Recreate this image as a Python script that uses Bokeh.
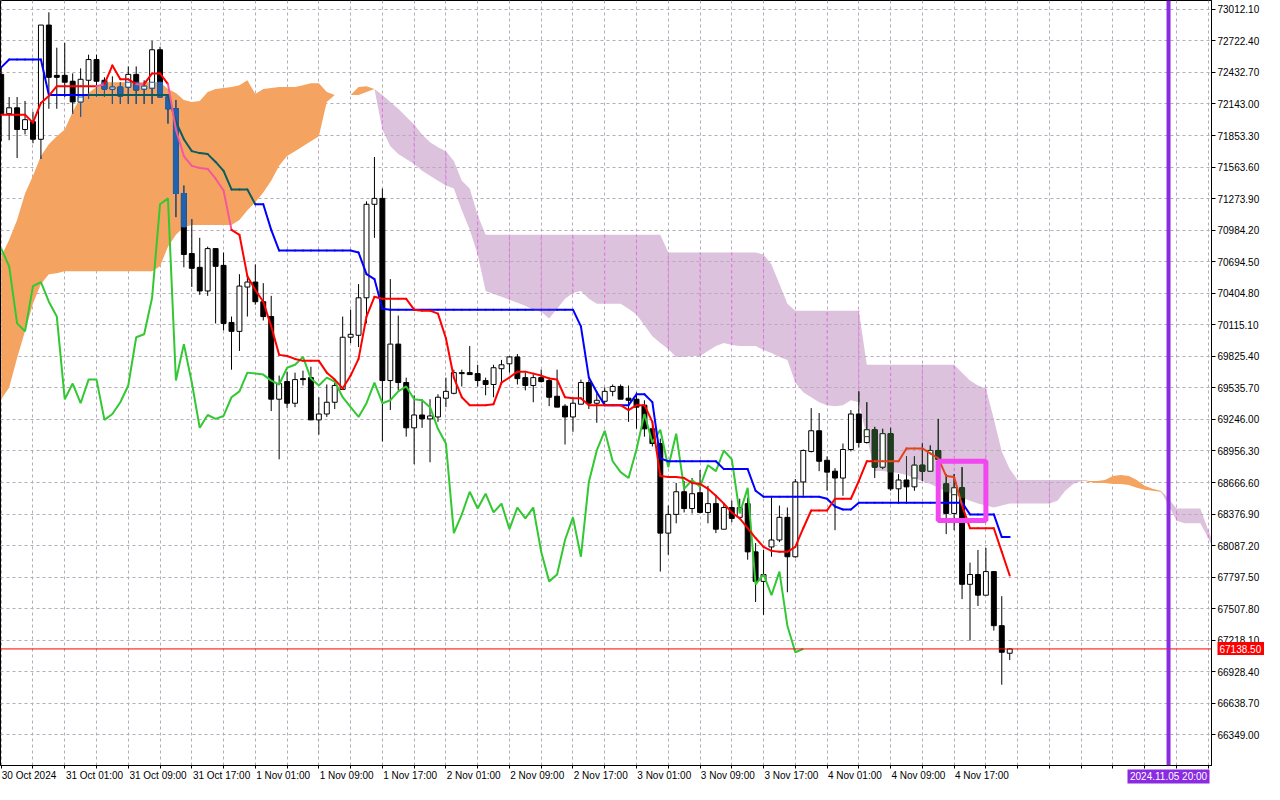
import numpy as np
from bokeh.plotting import figure
from bokeh.models import FixedTicker, PrintfTickFormatter, Span, Range1d, LinearAxis
from bokeh.embed import file_html
from bokeh.resources import INLINE

# ---------------- data (hourly bars, index 0 = 30 Oct 2024 17:00) ----------------
tick_bars = [0, 8, 16, 24, 32, 40, 48, 56, 64, 72, 80, 88, 96, 104, 112, 120]
tick_labels = ["30 Oct 2024", "31 Oct 01:00", "31 Oct 09:00", "31 Oct 17:00",
               "1 Nov 01:00", "1 Nov 09:00", "1 Nov 17:00", "2 Nov 01:00",
               "2 Nov 09:00", "2 Nov 17:00", "3 Nov 01:00", "3 Nov 09:00",
               "3 Nov 17:00", "4 Nov 01:00", "4 Nov 09:00", "4 Nov 17:00"]
price_ticks = [73012.10, 72722.40, 72432.70, 72143.00, 71853.30, 71563.60, 71273.90,
               70984.20, 70694.50, 70404.80, 70115.10, 69825.40, 69535.70, 69246.00,
               68956.30, 68666.60, 68376.90, 68087.20, 67797.50, 67507.80, 67218.10,
               66928.40, 66638.70, 66349.00]

opens = [72415, 72054, 72108, 71909, 71981, 71819, 72868, 72406, 72406, 72352,
         72162, 72361, 72551, 72361, 72280, 72298, 72298, 72415, 72280, 72289,
         72641, 72207, 72099, 71321, 70770, 70643, 70426, 70815, 70661, 70137,
         70055, 70462, 70508, 70327, 70191, 69432, 69594, 69395, 69621, 69630,
         69242, 69296, 69404, 69522, 70001, 70019, 70363, 71222, 71276, 69603,
         69938, 69585, 69169, 69287, 69251, 69269, 69441, 69486, 69676, 69676,
         69667, 69603, 69567, 69712, 69757, 69820, 69630, 69558, 69630, 69603,
         69459, 69368, 69269, 69386, 69585, 69395, 69413, 69504, 69549, 69441,
         69432, 69377, 69160, 69025, 68202, 68374, 68582, 68428, 68573, 68392,
         68473, 68238, 68437, 68347, 68473, 68030, 67759, 68075, 68139, 68347,
         67985, 68672, 68952, 69142, 68871, 68771, 68708, 68970, 69296, 69034,
         69151, 68808, 69115, 68609, 68690, 68627, 68826, 68771, 68961, 68654,
         68383, 68618, 67732, 67822, 67632, 67849, 67352, 67099]
highs = [72479, 72207, 72207, 72171, 72072, 72868, 72985, 72660, 72705, 72424,
         72470, 72596, 72596, 72388, 72397, 72343, 72488, 72488, 72361, 72723,
         72669, 72234, 72180, 71394, 71086, 70914, 70833, 70815, 70779, 70191,
         70580, 70580, 70670, 70498, 70381, 69649, 69685, 69676, 69694, 69730,
         69450, 69567, 69585, 70191, 70254, 70489, 71249, 71656, 71366, 70535,
         70200, 69630, 69468, 69432, 69432, 69477, 69630, 69703, 69703, 69920,
         69748, 69630, 69748, 69793, 69829, 69847, 69676, 69658, 69703, 69630,
         69703, 69386, 69432, 69612, 69612, 69486, 69540, 69567, 69567, 69558,
         69495, 69422, 69224, 69070, 68455, 68663, 68681, 68708, 68781, 68636,
         68545, 68473, 68500, 68518, 68527, 68111, 68048, 68527, 68455, 68437,
         68699, 68970, 69350, 69305, 68907, 68799, 69025, 69332, 69504, 69404,
         69178, 69160, 69169, 68744, 68907, 68907, 69025, 69007, 69251, 68744,
         68744, 68808, 67931, 68048, 68066, 67849, 67623, 67144]
lows = [71800, 71810, 71647, 71864, 71782, 71638, 72099, 72099, 72207, 72054,
        72027, 72189, 72207, 72207, 72144, 72144, 72144, 72144, 72144, 72144,
        72207, 71963, 71104, 70643, 70462, 70390, 70381, 70128, 70064, 69703,
        69875, 70191, 70300, 70155, 69323, 68880, 69350, 69359, 69558, 69242,
        69106, 69269, 69341, 69522, 69947, 69911, 70128, 70914, 69043, 69332,
        69513, 69088, 68835, 69169, 68853, 69224, 69359, 69477, 69549, 69658,
        69549, 69468, 69450, 69567, 69676, 69567, 69513, 69404, 69585, 69368,
        69359, 69016, 69133, 69386, 69341, 69215, 69386, 69459, 69432, 69224,
        69160, 69088, 68998, 67849, 68003, 68292, 68392, 68383, 68383, 68292,
        68202, 68238, 68301, 68337, 67958, 67569, 67451, 67985, 68120, 67659,
        67976, 68545, 68943, 68771, 68591, 68229, 68545, 68952, 68988, 69025,
        68708, 68790, 68591, 68473, 68473, 68591, 68681, 68771, 68862, 68193,
        68229, 67596, 67216, 67533, 67632, 67307, 66810, 67036]
closes = [72054, 72108, 71909, 71999, 71819, 72868, 72388, 72388, 72343, 72162,
          72370, 72551, 72352, 72280, 72298, 72216, 72415, 72271, 72307, 72641,
          72207, 72099, 71321, 70761, 70634, 70426, 70815, 70652, 70128, 70055,
          70471, 70508, 70327, 70191, 69432, 69576, 69395, 69612, 69612, 69242,
          69296, 69404, 69558, 70001, 70028, 70363, 71222, 71276, 69603, 69938,
          69585, 69169, 69287, 69251, 69278, 69450, 69504, 69676, 69667, 69658,
          69603, 69567, 69721, 69748, 69820, 69621, 69558, 69630, 69594, 69450,
          69359, 69269, 69395, 69585, 69395, 69422, 69504, 69549, 69432, 69422,
          69359, 69160, 69025, 68202, 68374, 68582, 68428, 68564, 68392, 68473,
          68238, 68437, 68337, 68437, 68030, 67759, 67822, 68139, 68347, 67985,
          68672, 68961, 69142, 68862, 68762, 68708, 68970, 69296, 69034, 69151,
          68808, 69115, 68609, 68690, 68627, 68826, 68771, 68961, 68880, 68383,
          68618, 67732, 67822, 67632, 67849, 67352, 67108, 67138.5]

tenkan = [72045, 72045, 72045, 72045, 71972, 72153, 72217, 72307, 72307, 72307,
          72307, 72307, 72307, 72325, 72497, 72370, 72370, 72325, 72325, 72424,
          72424, 72325, 71909, 71665, 71575, 71556, 71547, 71457, 71348, 70987,
          70942, 70562, 70435, 70327, 70101, 69839, 69829, 69802, 69784, 69784,
          69784, 69676, 69612, 69531, 69649, 69802, 70191, 70372, 70354, 70354,
          70354, 70354, 70254, 70245, 70245, 70218, 69992, 69631, 69450, 69377,
          69377, 69377, 69386, 69585, 69631, 69685, 69685, 69667, 69649, 69622,
          69612, 69450, 69441, 69441, 69377, 69377, 69377, 69377, 69377, 69332,
          69377, 69377, 69224, 68726, 68717, 68717, 68708, 68663, 68654, 68609,
          68546, 68473, 68392, 68338, 68247, 68157, 68075, 68039, 68030, 68030,
          68075, 68247, 68410, 68410, 68410, 68518, 68518, 68518, 68681, 68862,
          68862, 68862, 68862, 68862, 68980, 68980, 68980, 68934, 68889, 68726,
          68717, 68455, 68247, 68247, 68247, 68247, 68030, 67813]
kijun = [72479, 72551, 72551, 72551, 72551, 72551, 72226, 72226, 72226, 72226,
         72226, 72226, 72226, 72226, 72226, 72226, 72226, 72226, 72226, 72226,
         72226, 72226, 71981, 71819, 71710, 71692, 71683, 71611, 71529, 71358,
         71358, 71358, 71222, 71222, 70987, 70797, 70797, 70797, 70797, 70797,
         70797, 70797, 70797, 70797, 70797, 70779, 70580, 70535, 70263, 70254,
         70254, 70254, 70254, 70254, 70254, 70254, 70254, 70254, 70254, 70254,
         70254, 70254, 70254, 70254, 70254, 70254, 70254, 70254, 70254, 70254,
         70254, 70254, 70254, 70101, 69631, 69495, 69377, 69377, 69377, 69377,
         69477, 69477, 69405, 68889, 68862, 68862, 68862, 68862, 68862, 68862,
         68862, 68790, 68790, 68790, 68790, 68591, 68536, 68536, 68536, 68536,
         68536, 68536, 68536, 68536, 68518, 68446, 68419, 68419, 68482, 68482,
         68482, 68482, 68482, 68482, 68482, 68482, 68482, 68482, 68482, 68482,
         68482, 68482, 68374, 68374, 68374, 68374, 68166, 68166]
senkou_a = [70743, 70896, 71077, 71321, 71484, 71665, 71773, 71846, 71909, 72072,
            72207, 72244, 72298, 72343, 72343, 72343, 72343, 72343, 72343, 72343,
            72343, 72280, 72244, 72180, 72162, 72171, 72253, 72280, 72289, 72298,
            72316, 72361, 72235, 72280, 72289, 72298, 72298, 72298, 72316, 72334,
            72334, 72253, 72226, 72226, 72226, 72298, 72307, 72280, 71909, 71755,
            71683, 71638, 71593, 71529, 71484, 71439, 71394, 71367, 71168, 70987,
            70761, 70426, 70399, 70372, 70345, 70318, 70291, 70254, 70236, 70173,
            70263, 70354, 70408, 70426, 70354, 70309, 70309, 70309, 70309, 70263,
            70209, 70110, 70010, 69947, 69893, 69820, 69820, 69829, 69829, 69875,
            69920, 69947, 69929, 69920, 69920, 69920, 69884, 69857, 69820, 69793,
            69585, 69495, 69450, 69405, 69377, 69368, 69377, 69423, 69405, 69088,
            68772, 68772, 68763, 68754, 68735, 68708, 68681, 68654, 68618, 68582,
            68555, 68527, 68500, 68473, 68455, 68437, 68455, 68473, 68473, 68473,
            68473, 68473, 68473, 68500, 68591, 68654, 68681, 68681, 68681, 68690,
            68726, 68735, 68726, 68690, 68636, 68609, 68591, 68455, 68319, 68292,
            68292, 68292, 68157, 68003]
senkou_b = [69432, 69540, 69811, 70056, 70309, 70490, 70580, 70589, 70607, 70607,
            70607, 70607, 70607, 70607, 70607, 70607, 70607, 70607, 70607, 70607,
            70652, 70833, 70942, 71014, 71032, 71032, 71032, 71032, 71032, 71032,
            71077, 71168, 71240, 71330, 71439, 71575, 71665, 71710, 71755, 71801,
            71846, 72162, 72226, 72226, 72226, 72226, 72253, 72280, 72226, 72162,
            72099, 72027, 71954, 71864, 71792, 71746, 71710, 71620, 71439, 71367,
            71122, 70942, 70942, 70942, 70942, 70942, 70942, 70942, 70942, 70942,
            70942, 70942, 70942, 70942, 70942, 70942, 70942, 70942, 70942, 70942,
            70942, 70942, 70942, 70942, 70779, 70779, 70779, 70779, 70779, 70779,
            70779, 70779, 70779, 70779, 70779, 70779, 70761, 70670, 70490, 70309,
            70245, 70245, 70245, 70245, 70245, 70245, 70245, 70245, 70245, 69748,
            69748, 69748, 69748, 69748, 69748, 69748, 69748, 69748, 69748, 69748,
            69748, 69676, 69603, 69558, 69531, 69251, 68952, 68790, 68690, 68690,
            68690, 68690, 68690, 68690, 68690, 68690, 68690, 68672, 68663, 68663,
            68654, 68654, 68645, 68618, 68600, 68591, 68582, 68518, 68428, 68428,
            68428, 68428, 68229, 68048]
CHIKOU_SHIFT = 26
current_price = 67138.5
marker_bar = 147
marker_label = "2024.11.05 20:00"
box_left, box_right, box_top, box_bottom = 118.0, 124.0, 68863.0, 68317.0

# ---------------- figure ----------------
X0, X1 = -0.09, 152.41
Y0, Y1 = 66068.0, 73093.5
p = figure(width=1264, height=784, x_range=Range1d(X0, X1), y_range=Range1d(Y0, Y1),
           y_axis_location="right", toolbar_location=None, output_backend="svg",
           min_border_left=0, min_border_top=0, min_border_right=0, min_border_bottom=0,
           background_fill_color="white", border_fill_color="white")
p.outline_line_color = "black"
p.outline_line_width = 1

AXFONT = "Liberation Sans"
FS = 10.0
# approximate glyph advance widths (Liberation Sans, per px of font size)
CW = {" ": 0.278, ":": 0.278, ".": 0.278, "O": 0.778, "N": 0.722, "c": 0.5,
      "t": 0.278, "o": 0.556, "v": 0.5}


def text_w(s):
    return sum(CW.get(ch, 0.556) for ch in s) * FS


# MetaTrader puts each time label to the right of its tick: centre the label half its width later
px_per_bar = 1216.0 / (X1 - X0)
label_pos = [round((b + (text_w(t) / 2 + 1.5) / px_per_bar) * 4) / 4 for b, t in zip(tick_bars, tick_labels)]

xax = p.xaxis[0]
xax.ticker = FixedTicker(ticks=label_pos, minor_ticks=list(range(0, 153, 4)))
xax.major_label_overrides = {pos: t for pos, t in zip(label_pos, tick_labels)}
yax = p.yaxis[0]
yax.ticker = FixedTicker(ticks=price_ticks)
yax.formatter = PrintfTickFormatter(format="%.2f")
for ax in (xax, yax):
    ax.axis_label = None
    ax.axis_label_standoff = 0
    ax.axis_line_color = "black"
    ax.major_tick_line_color = "black"
    ax.minor_tick_line_color = "black"
    ax.major_tick_in = 0
    ax.minor_tick_in = 0
    ax.major_label_text_font = AXFONT
    ax.major_label_text_font_size = "10px"
    ax.major_label_text_color = "black"
xax.major_tick_out = 0
xax.minor_tick_out = 3
xax.major_label_standoff = 1
yax.major_tick_out = 4
yax.minor_tick_out = 0
yax.major_label_standoff = 2

p.xgrid.ticker = FixedTicker(ticks=list(range(0, 153, 4)))
p.ygrid.ticker = FixedTicker(ticks=price_ticks)
p.grid.grid_line_color = "#b4acb8"
p.grid.grid_line_dash = "3 3"
p.grid.grid_line_width = 1

# current-price tag on the price scale (a one-tick axis whose thick tick forms the red box)
tag_axis = LinearAxis(ticker=FixedTicker(ticks=[current_price]),
                      formatter=PrintfTickFormatter(format="%.2f"),
                      axis_line_color=None, minor_tick_line_color=None,
                      major_tick_in=45, major_tick_out=3,
                      major_tick_line_color="#ff0000", major_tick_line_width=13,
                      major_label_standoff=-46, major_label_text_color="white",
                      major_label_text_font=AXFONT, major_label_text_font_size="10px")
p.add_layout(tag_axis, "right")

# time tag on the time scale (one-tick axis with a wide purple tick)
time_axis = LinearAxis(ticker=FixedTicker(ticks=[marker_bar]),
                       major_label_overrides={marker_bar: marker_label},
                       axis_line_color=None, minor_tick_line_color=None,
                       major_tick_in=14, major_tick_out=0,
                       major_tick_line_color="#8a2be2", major_tick_line_width=82,
                       major_label_standoff=-13, major_label_text_color="white",
                       major_label_text_font=AXFONT, major_label_text_font_size="10px")
p.add_layout(time_axis, "below")

# ---------------- cloud ----------------
A = np.array(senkou_a, float)
B = np.array(senkou_b, float)
xc = np.arange(len(A))
hi_c = np.maximum(A, B)
lo_c = np.minimum(A, B)
# bullish (orange) cloud hides the grid; bearish (plum) cloud lies under it
r2 = p.varea(x=xc, y1=A, y2=hi_c, fill_color="#dcc2dc")
r2.level = "image"
p.varea(x=xc, y1=B, y2=hi_c, fill_color="#f4a460")

# vertical grid lines show through the plum cloud in a magenta tint
gx, g0, g1 = [], [], []
for g in range(0, len(A), 4):
    if B[g] > A[g] + 20:
        gx.append(g); g0.append(A[g]); g1.append(B[g])
p.segment(x0=gx, y0=g0, x1=gx, y1=g1, line_color="#f06af0", line_width=1, line_dash="3 3")

# ---------------- candles ----------------
O = np.array(opens, float); H = np.array(highs, float)
L = np.array(lows, float); C = np.array(closes, float)
n = len(C)
x = np.arange(n)
bull = C >= O
top = np.maximum(O, C); bot = np.minimum(O, C)
p.segment(x0=x, y0=L, x1=x, y1=H, line_color="black", line_width=1)
p.vbar(x=x, width=0.62, top=top, bottom=bot,
       fill_color=["white" if b else "black" for b in bull], line_color="black", line_width=1)

# parts of candles lying inside the cloud take the cloud's blended tint
CLOUD_TINT_O = "#1f62ae"
CLOUD_TINT_P = "#1e3e1e"
wx, w0, w1, wc = [], [], [], []
bx, bt, bb, bf, bl = [], [], [], [], []
for i in range(n):
    lo, hi = lo_c[i], hi_c[i]
    if hi - lo < 5:
        continue
    col = CLOUD_TINT_O if A[i] >= B[i] else CLOUD_TINT_P
    a, b = max(L[i], lo), min(H[i], hi)
    if b > a:
        wx.append(i); w0.append(a); w1.append(b); wc.append(col)
    a, b = max(bot[i], lo), min(top[i], hi)
    if b >= a:
        bx.append(i); bt.append(b); bb.append(a); bl.append(col)
        bf.append("white" if bull[i] else col)
if wx:
    p.segment(x0=wx, y0=w0, x1=wx, y1=w1, line_color=wc, line_width=1)
if bx:
    p.vbar(x=bx, width=0.62, top=bt, bottom=bb, fill_color=bf, line_color=bl, line_width=1)


def cloud_colored_segments(vals, base, c_orange, c_plum):
    v = np.array(vals, float)
    xs = np.arange(len(v) - 1)
    xm = xs + 0.5
    ym = (v[:-1] + v[1:]) / 2
    lo = np.interp(xm, xc, lo_c); hi = np.interp(xm, xc, hi_c)
    org = np.interp(xm, xc, A) >= np.interp(xm, xc, B)
    inside = (ym > lo) & (ym < hi)
    cols = [(c_orange if o else c_plum) if ins else base for ins, o in zip(inside, org)]
    p.segment(x0=xs, y0=v[:-1], x1=xs + 1, y1=v[1:], line_color=cols,
              line_width=2, line_cap="round")


# chikou span: closes drawn 26 bars back
p.line(x=np.arange(n - CHIKOU_SHIFT), y=C[CHIKOU_SHIFT:], line_color="#32c832", line_width=2)
cloud_colored_segments(kijun, "#0000ff", "#0b5c5e", "#1a1af0")
cloud_colored_segments(tenkan, "#ff0000", "#f5579e", "#e2421c")

# ---------------- annotations ----------------
p.quad(left=[box_left], right=[box_right], top=[box_top], bottom=[box_bottom],
       fill_alpha=0, line_color="#f246f0", line_width=5)
p.add_layout(Span(location=current_price, dimension="width", line_color="#ff0000", line_width=1))
p.add_layout(Span(location=marker_bar, dimension="height", line_color="#8a2be2", line_width=4))

open("out.html", "w").write(file_html(p, INLINE))
